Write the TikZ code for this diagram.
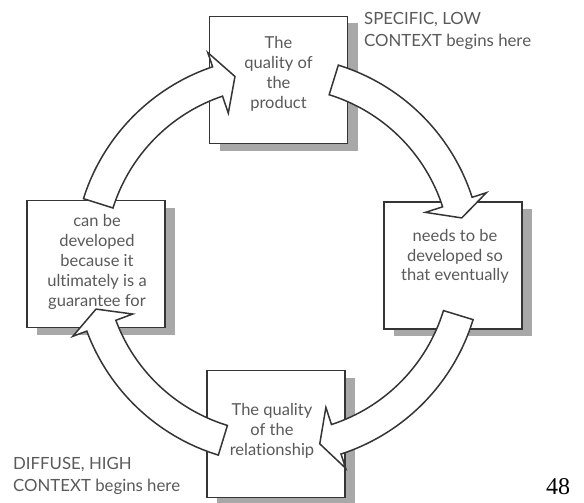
\documentclass[tikz,border=0pt]{standalone}
\usepackage{fontspec}
\setmainfont{Lato}[Ligatures={NoCommon}]
\newfontfamily\pagefont{Liberation Serif}
\usetikzlibrary{shadows}

\definecolor{ink}{HTML}{353535}
\definecolor{txt}{HTML}{5A5A5A}
\definecolor{shade}{HTML}{A8A8A8}

% block arrow bent round the ring: tail angle, base of head, tip
\newcommand{\ringarrow}[3]{%
  \draw[band] (#1:204) arc[start angle=#1,end angle=#2,radius=204]
    -- (#2:219) -- (#3:188.5) -- (#2:155) -- (#2:173)
    arc[start angle=#2,end angle=#1,radius=173] -- cycle;}

\begin{document}
\begin{tikzpicture}[x=1pt,y=1pt,font=\fontsize{16.5}{19.8}\selectfont,
    card/.style={draw=ink,line width=1.6pt,fill=white,
      minimum width=138pt,minimum height=127pt,
      drop shadow={shadow xshift=10pt,shadow yshift=-7pt,fill=shade,opacity=1}},
    cardtext/.style={align=center,text=txt,inner sep=0pt},
    remark/.style={align=left,text=txt,anchor=west,inner sep=0pt,
      font=\fontsize{16.8}{22.5}\selectfont},
    band/.style={draw=ink,line width=1.5pt,fill=white,line join=miter}]
  \useasboundingbox (0,0) rectangle (584,-503);

  % the four stations
  \node[card] (product) at (278.5,-80) {};
  \node[card] (develop) at (453,-265.5) {};
  \node[card] (relation) at (276,-434) {};
  \node[card] (guarantee) at (96,-264) {};

  \node[cardtext] (productText) at ([yshift=6]product.center)
    {The\\quality of\\the\\product};
  \node[cardtext] (developText) at ([xshift=2,yshift=9]develop.center)
    {needs to be\\developed so\\that eventually};
  \node[cardtext] (relationText) at ([xshift=-4,yshift=3]relation.center)
    {The quality\\of the\\relationship};
  \node[cardtext] (guaranteeText) at ([xshift=1,yshift=2]guarantee.center)
    {can be\\developed\\because it\\ultimately is a\\guarantee for};

  % arrows running clockwise round the ring
  \coordinate (ring) at (278,-260);
  \begin{scope}[shift={(ring)}]
    \ringarrow{162.5}{108.7}{103.2}
    \ringarrow{72.8}{17.9}{12.9}
    \ringarrow{-17}{-72}{-77.2}
    \ringarrow{253}{200.4}{195.1}
  \end{scope}

  \node[remark] (specific) at (364,-31) {SPECIFIC, LOW\\CONTEXT begins here};
  \node[remark] (diffuse) at (13,-476) {DIFFUSE, HIGH\\CONTEXT begins here};
  \node[inner sep=0pt,font=\pagefont\fontsize{24}{24}\selectfont] (page) at (558,-487) {48};
\end{tikzpicture}
\end{document}
